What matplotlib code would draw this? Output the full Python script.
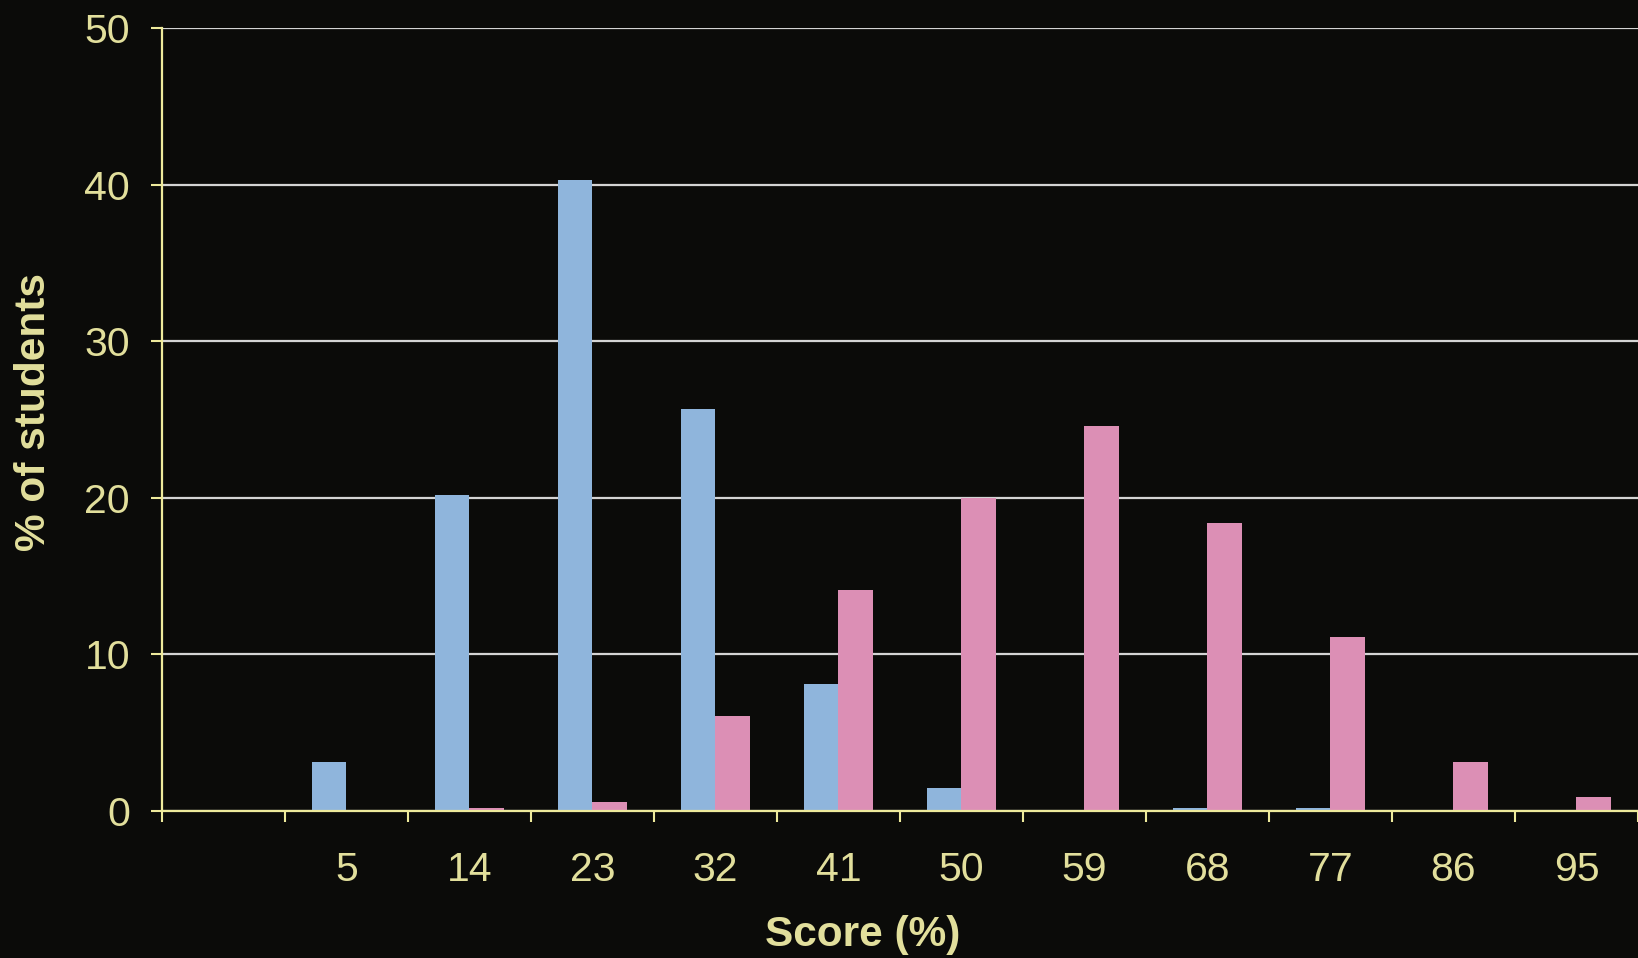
"""Score distribution bar chart, dark slide style."""
import matplotlib
matplotlib.use("Agg")
import matplotlib.pyplot as plt
import numpy as np

BG    = "#0b0b09"
AXIS  = "#eeea9c"
TEXT  = "#e2df9c"
GRID  = "#d4d4d4"
BLUE  = "#8fb5dc"
PINK  = "#dc8fb5"

plt.rcParams["font.family"] = ["Liberation Sans", "DejaVu Sans"]

# data
scores = ["", "5", "14", "23", "32", "41", "50", "59", "68", "77", "86", "95"]
blue   = [0, 3.1, 20.2, 40.3, 25.7, 8.1, 1.5, 0, 0.2, 0.2, 0, 0]
pink   = [0, 0, 0.2, 0.6, 6.1, 14.1, 20.0, 24.6, 18.4, 11.1, 3.1, 0.9]
yticks = [0, 10, 20, 30, 40, 50]

fig = plt.figure(figsize=(16.38, 9.58), dpi=100)
fig.patch.set_facecolor(BG)
ax = fig.add_axes([0.0989, 0.1534, 0.9011, 0.8174])
ax.set_facecolor(BG)

x = np.arange(len(scores))
w = 0.28
ax.bar(x - w / 2, blue, w, color=BLUE, zorder=2)
ax.bar(x + w / 2, pink, w, color=PINK, zorder=2)

ax.set_xlim(-0.5, len(scores) - 0.5)
ax.set_ylim(0, 50)
ax.set_yticks(yticks)
ax.yaxis.grid(True, color=GRID, lw=1.6, zorder=0)
ax.set_axisbelow(True)

# labels centred in slots, tick marks on slot boundaries
ax.set_xticks(x)
ax.set_xticklabels(scores)
ax.set_xticks(np.arange(-0.5, len(scores)), minor=True)
ax.tick_params(axis="x", which="major", length=0, pad=29,
               labelsize=29.5, labelcolor=TEXT)
ax.tick_params(axis="x", which="minor", length=8, width=1.5,
               color=AXIS, direction="out")
ax.tick_params(axis="y", length=8, width=1.5, color=AXIS, pad=15,
               labelsize=29.5, labelcolor=TEXT)

for s in ("top", "right"):
    ax.spines[s].set_visible(False)
for s in ("left", "bottom"):
    ax.spines[s].set_color(AXIS)
    ax.spines[s].set_linewidth(1.6)
    ax.spines[s].set_zorder(3)

ax.set_xlabel("Score (%)", fontsize=30.5, fontweight="bold", color=TEXT)
ax.xaxis.set_label_coords(0.475, -0.133)
ax.set_ylabel("% of students", fontsize=30.5, fontweight="bold", color=TEXT)
ax.yaxis.set_label_coords(-0.073, 0.51)

fig.savefig("out.png", dpi=100, facecolor=BG)
